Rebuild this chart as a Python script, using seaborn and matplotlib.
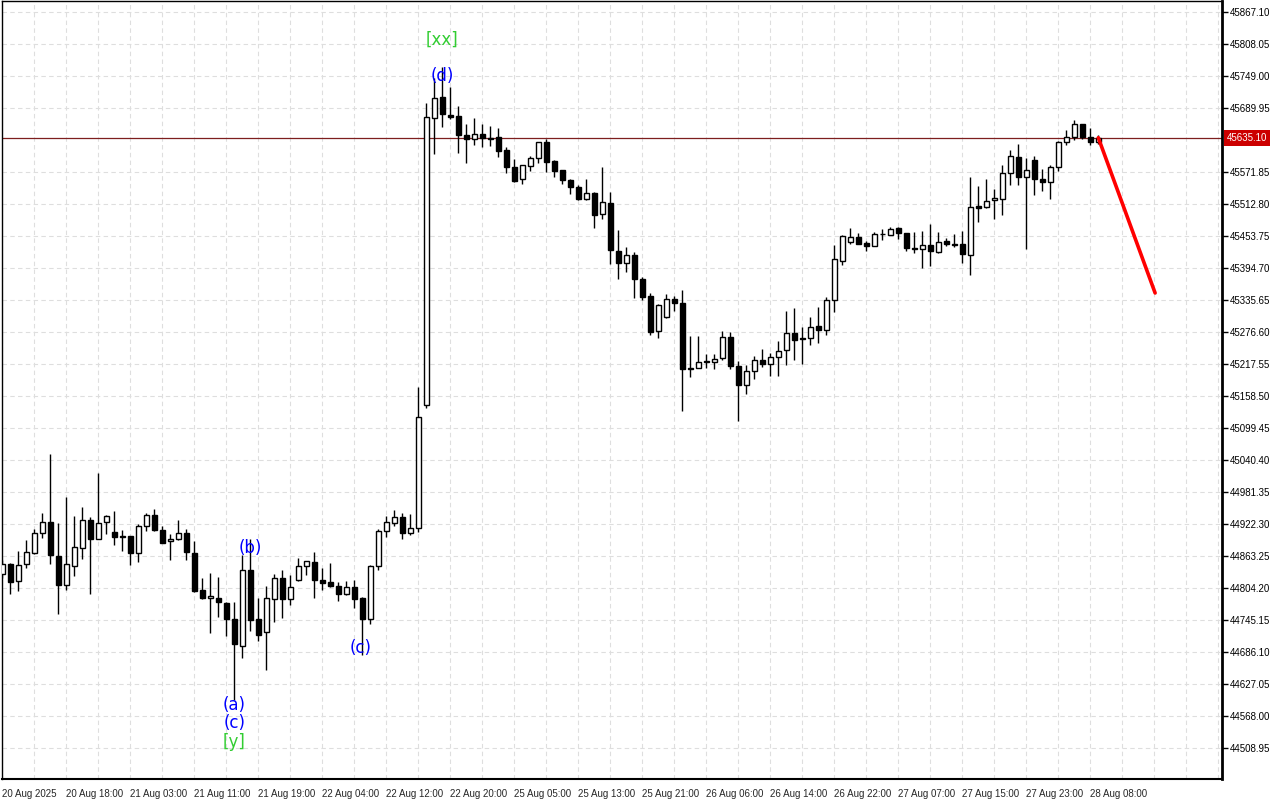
import numpy as np
import pandas as pd
import seaborn as sns
import matplotlib
matplotlib.use("Agg")
import matplotlib.pyplot as plt
from matplotlib.ticker import FixedLocator, NullFormatter
import matplotlib.transforms as mtransforms

# US30 H1 candles, 20 Aug 2025 -> 28 Aug 2025 09:00
opens = [44829.5, 44848.5, 44816.6, 44847.9, 44868.8, 44905.1, 44926.0, 44862.7, 44810.3, 44845.4,
         44877.5, 44929.1, 44894.1, 44925.4, 44907.0, 44899.6, 44899.6, 44868.2, 44918.1, 44938.4,
         44910.7, 44890.4, 44894.1, 44905.1, 44868.2, 44800.0, 44785.2, 44785.2, 44776.0, 44746.5,
         44697.7, 44837.4, 44747.0, 44722.5, 44784.5, 44822.1, 44783.3, 44818.4, 44844.3, 44852.2,
         44818.4, 44814.7, 44807.3, 44792.6, 44805.5, 44785.2, 44746.5, 44844.3, 44908.8, 44923.6,
         44934.7, 44906.6, 44914.4, 45141.3, 45670.9, 45709.7, 45676.5, 45674.6, 45639.6, 45632.2,
         45641.4, 45635.1, 45635.9, 45612.4, 45580.5, 45558.4, 45582.4, 45597.1, 45626.7, 45591.6,
         45575.0, 45556.5, 45543.6, 45521.5, 45532.5, 45493.8, 45514.1, 45425.5, 45403.4, 45418.1,
         45373.9, 45342.5, 45277.9, 45303.7, 45336.9, 45329.6, 45209.6, 45210.7, 45223.6, 45220.7,
         45228.1, 45266.8, 45213.3, 45178.3, 45204.1, 45224.4, 45217.0, 45229.9, 45242.8, 45274.2,
         45265.0, 45265.0, 45287.1, 45279.7, 45335.1, 45407.1, 45442.1, 45451.4, 45440.3, 45434.7,
         45456.9, 45455.0, 45468.0, 45458.7, 45432.0, 45429.2, 45436.6, 45423.7, 45444.0, 45438.4,
         45438.4, 45418.1, 45509.1, 45506.7, 45519.6, 45521.5, 45569.5, 45599.0, 45562.1, 45593.4,
         45558.4, 45552.8, 45580.5, 45626.7, 45635.9, 45659.9, 45635.9, 45627.2]
highs = [44855.9, 44850.3, 44872.5, 44892.8, 44913.1, 44942.6, 45051.5, 44923.6, 44972.1, 44937.1,
         44953.1, 44934.7, 45016.4, 44938.9, 44946.3, 44910.7, 44900.2, 44922.3, 44942.0, 44949.4,
         44918.1, 44903.3, 44929.1, 44912.5, 44890.4, 44822.1, 44831.3, 44824.0, 44778.4, 44777.8,
         44865.1, 44894.6, 44785.2, 44807.9, 44830.0, 44837.4, 44827.6, 44859.0, 44854.0, 44870.1,
         44840.6, 44849.8, 44814.7, 44816.6, 44818.4, 44787.1, 44846.1, 44912.5, 44936.5, 44947.6,
         44942.0, 44940.8, 45174.6, 45698.6, 45744.8, 45765.1, 45728.2, 45693.1, 45659.9, 45670.9,
         45659.9, 45656.2, 45652.5, 45617.4, 45595.3, 45584.8, 45600.8, 45627.2, 45632.2, 45593.4,
         45575.5, 45558.4, 45547.3, 45558.4, 45534.4, 45580.5, 45534.4, 45464.3, 45432.9, 45423.7,
         45377.5, 45348.0, 45327.7, 45346.2, 45342.5, 45353.6, 45268.7, 45268.7, 45235.5, 45235.5,
         45277.9, 45276.1, 45222.5, 45215.2, 45231.8, 45244.7, 45237.3, 45259.4, 45315.4, 45320.3,
         45285.3, 45303.7, 45322.2, 45340.6, 45436.6, 45455.0, 45468.0, 45458.7, 45444.0, 45460.6,
         45466.1, 45469.8, 45469.8, 45459.3, 45460.6, 45462.4, 45475.3, 45460.6, 45449.5, 45456.9,
         45462.4, 45562.1, 45545.5, 45558.4, 45539.9, 45584.2, 45611.9, 45623.0, 45597.1, 45600.8,
         45576.8, 45584.2, 45628.5, 45648.8, 45667.3, 45660.4, 45652.5, 45639.6]
lows = [44822.7, 44793.7, 44799.2, 44841.7, 44867.5, 44897.0, 44849.0, 44756.8, 44800.0, 44826.9,
        44858.3, 44793.7, 44894.1, 44904.4, 44884.1, 44873.0, 44847.6, 44851.6, 44908.8, 44909.4,
        44886.7, 44855.3, 44892.8, 44855.3, 44797.4, 44783.3, 44720.6, 44751.2, 44715.1, 44597.5,
        44675.6, 44725.4, 44705.9, 44652.9, 44742.0, 44749.4, 44773.4, 44817.1, 44827.6, 44786.3,
        44800.0, 44807.0, 44780.8, 44790.7, 44767.9, 44680.6, 44737.2, 44836.9, 44897.8, 44918.1,
        44894.1, 44902.0, 44908.1, 45136.9, 45605.1, 45655.4, 45669.1, 45607.5, 45589.0, 45622.2,
        45618.5, 45620.4, 45600.1, 45570.6, 45553.4, 45550.3, 45573.1, 45587.9, 45571.3, 45562.1,
        45549.2, 45530.7, 45519.6, 45519.6, 45468.0, 45484.6, 45401.5, 45373.9, 45386.8, 45338.8,
        45335.1, 45272.0, 45266.1, 45303.3, 45314.8, 45131.4, 45193.0, 45209.6, 45209.6, 45207.8,
        45224.4, 45207.8, 45111.8, 45161.6, 45189.3, 45211.5, 45194.9, 45194.9, 45215.2, 45224.4,
        45217.0, 45252.1, 45255.8, 45270.5, 45313.0, 45399.7, 45438.4, 45438.1, 45425.5, 45434.4,
        45445.8, 45454.7, 45448.3, 45425.5, 45421.8, 45394.2, 45397.8, 45423.3, 45434.7, 45432.9,
        45403.4, 45381.2, 45480.1, 45506.3, 45484.6, 45492.0, 45547.3, 45547.3, 45429.2, 45528.9,
        45536.2, 45521.5, 45573.1, 45621.1, 45630.3, 45632.2, 45621.1, 45623.0]
closes = [44847.9, 44815.8, 44846.1, 44870.1, 44905.1, 44925.4, 44865.6, 44810.3, 44847.9, 44879.3,
          44929.1, 44895.2, 44923.6, 44936.5, 44898.9, 44899.2, 44869.7, 44918.1, 44938.4, 44910.7,
          44887.8, 44894.1, 44905.1, 44870.1, 44799.2, 44786.3, 44788.9, 44777.8, 44746.5, 44700.3,
          44837.4, 44745.7, 44718.0, 44785.2, 44822.1, 44784.5, 44805.5, 44844.3, 44853.5, 44818.4,
          44812.9, 44807.3, 44792.6, 44805.5, 44784.5, 44746.5, 44844.3, 44908.8, 44925.4, 44934.7,
          44906.6, 44914.4, 45119.2, 45672.8, 45707.9, 45678.3, 45672.8, 45639.6, 45632.2, 45641.4,
          45634.0, 45632.2, 45611.2, 45580.5, 45555.8, 45584.2, 45597.1, 45626.7, 45589.8, 45573.1,
          45556.5, 45543.6, 45521.5, 45532.5, 45492.0, 45515.9, 45427.4, 45403.4, 45418.1, 45373.9,
          45342.1, 45277.5, 45325.9, 45336.9, 45329.6, 45207.8, 45207.8, 45220.7, 45220.7, 45226.2,
          45266.8, 45213.3, 45178.3, 45204.1, 45224.4, 45217.0, 45229.9, 45241.0, 45274.2, 45262.4,
          45263.1, 45285.3, 45279.7, 45335.1, 45410.8, 45453.2, 45451.4, 45438.4, 45434.7, 45456.9,
          45457.4, 45466.1, 45458.7, 45431.1, 45430.7, 45436.6, 45425.5, 45442.1, 45438.4, 45436.6,
          45420.0, 45507.8, 45506.0, 45517.8, 45523.3, 45569.5, 45600.8, 45562.1, 45575.0, 45558.4,
          45552.8, 45580.5, 45626.7, 45635.9, 45659.9, 45635.9, 45626.7, 45635.1]

time_labels = ["20 Aug 2025", "20 Aug 18:00", "21 Aug 03:00", "21 Aug 11:00", "21 Aug 19:00",
               "22 Aug 04:00", "22 Aug 12:00", "22 Aug 20:00", "25 Aug 05:00", "25 Aug 13:00",
               "25 Aug 21:00", "26 Aug 06:00", "26 Aug 14:00", "26 Aug 22:00", "27 Aug 07:00",
               "27 Aug 15:00", "27 Aug 23:00", "28 Aug 08:00"]
price_ticks = [45867.10, 45808.05, 45749.00, 45689.95, 45571.85, 45512.80, 45453.75,
               45394.70, 45335.65, 45276.60, 45217.55, 45158.50, 45099.45, 45040.40, 44981.35,
               44922.30, 44863.25, 44804.20, 44745.15, 44686.10, 44627.05, 44568.00, 44508.95]
last_price = 45635.10

# wave labels: (text, bar index, price, colour)
wave_text = ["[xx]", "(d)", "(b)", "(c)", "(a)", "(c)", "[y]"]
wave_bar = [55, 55, 31, 44.8, 29, 29, 29]
wave_price = [45815.4, 45749.0, 44878.0, 44693.5, 44588.3, 44555.1, 44520.0]
wave_color = ["#32cd32", "blue", "blue", "blue", "blue", "blue", "#32cd32"]

# forecast arrow
fc_bar = [137, 144.1]
fc_price = [45635.1, 45348.6]

df = pd.DataFrame({"open": opens, "high": highs, "low": lows, "close": closes})
df["bar"] = np.arange(len(df))
df["up"] = df["close"] >= df["open"]

sns.set_style("white")
plt.rcParams['font.family'] = ['Liberation Sans', 'DejaVu Sans']

fig = plt.figure(figsize=(12.8, 8), dpi=100)
ax = fig.add_axes([2 / 1280, 21 / 800, 1220 / 1280, 778 / 800])

# wicks then bodies
ax.vlines(df["bar"], df["low"], df["high"], color="black", lw=1, zorder=2)
body_bottom = df[["open", "close"]].min(axis=1)
body_h = (df["close"] - df["open"]).abs()
ax.bar(df["bar"], body_h, bottom=body_bottom, width=0.68,
       color=np.where(df["up"], "white", "black"), edgecolor="black", lw=1, zorder=3)

# current price line
ax.axhline(last_price, color="#7d1e1e", lw=0.9, zorder=1)

# forecast line
sns.lineplot(x=fc_bar, y=fc_price, color="#ff0000", lw=2.6, ax=ax, zorder=4)

for t, b, p, c in zip(wave_text, wave_bar, wave_price, wave_color):
    ax.text(b, p, t, color=c, fontsize=12, ha="center", va="center",
            family=["DejaVu Sans"], zorder=5)

ax.set_xlim(-0.04, 152.46)
ax.set_ylim(44451.8, 45887.4)

# axes ticks
ax.yaxis.tick_right()
ax.set_yticks(price_ticks)
ax.set_yticklabels([f"{p:.2f}" for p in price_ticks])
ax.tick_params(axis="y", direction="out", length=4, width=1, pad=1.5, labelsize=7, colors="black")

major_x = np.arange(0, len(df), 8)
ax.set_xticks(major_x)
ax.set_xticklabels(time_labels[:len(major_x)], ha="left")
ax.xaxis.set_minor_locator(FixedLocator(np.arange(4, len(df), 8)))
ax.xaxis.set_minor_formatter(NullFormatter())
ax.tick_params(axis="x", which="major", direction="out", length=6, width=1, pad=1, labelsize=7)
ax.tick_params(axis="x", which="minor", direction="out", length=3, width=1)

# dashed grid: every 4 bars and every price tick
for b in np.arange(0, len(df) + 16, 4):
    ax.axvline(b, color="#dedede", lw=0.8, ls=(0, (4, 3)), zorder=0)
for p in price_ticks:
    ax.axhline(p, color="#dedede", lw=0.8, ls=(0, (4, 3)), zorder=0)

for s in ax.spines.values():
    s.set_color("black")
    s.set_linewidth(1)
ax.spines["right"].set_linewidth(2)
ax.spines["bottom"].set_linewidth(1.5)

# last price tag
trans = mtransforms.blended_transform_factory(ax.transAxes, ax.transData)
ax.text(1.004, last_price, f"{last_price:.2f}", transform=trans, color="white", fontsize=7,
        ha="left", va="center", clip_on=False,
        bbox=dict(boxstyle="square,pad=0.3", facecolor="#cc0000", edgecolor="none"))

fig.savefig("out.png", dpi=100, facecolor="white")
